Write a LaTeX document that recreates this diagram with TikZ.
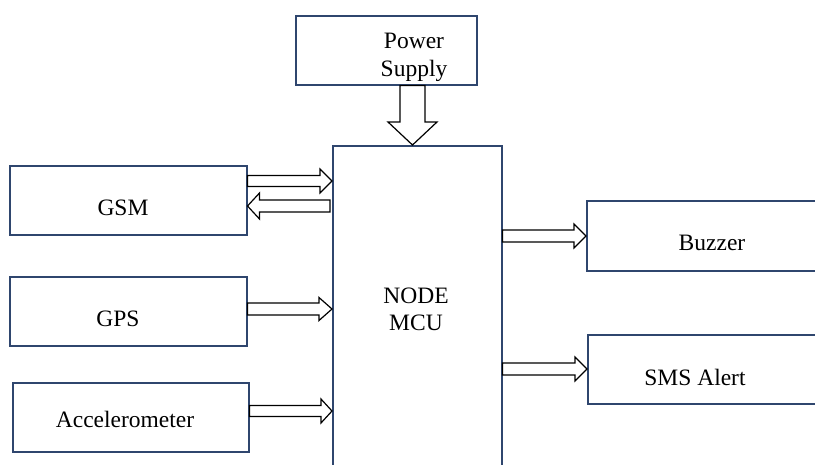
\documentclass[tikz,border=0pt]{standalone}
\usepackage{fontspec}
\setmainfont{Liberation Serif}
\usetikzlibrary{calc}
\definecolor{boxc}{RGB}{47,70,110}
\tikzset{
  box/.style={draw=boxc, line width=1.5pt, fill=white, minimum width=#1, inner sep=0pt, anchor=north west},
  lbl/.style={font=\fontsize{23.5}{27}\selectfont, anchor=base, inner sep=0pt},
  arrowline/.style={draw=black, line width=1.2pt, fill=white, line join=miter},
}
% #1 start, #2 end, #3 shaft half width, #4 head half width, #5 head length
\newcommand\blockarr[5]{%
  \coordinate (hb) at ($(#2)!#5!(#1)$);
  \path[arrowline] ($(#1)!#3!90:(#2)$) -- ($(hb)!#3!90:(#2)$) -- ($(hb)!#4!90:(#2)$) -- (#2)
    -- ($(hb)!#4!-90:(#2)$) -- ($(hb)!#3!-90:(#2)$) -- ($(#1)!#3!-90:(#2)$) -- cycle;
}
\begin{document}
\begin{tikzpicture}[x=1pt,y=-1pt]
\useasboundingbox (0,0) rectangle (815,464);
\clip (0,0) rectangle (815,464);
\fill[white] (0,0) rectangle (815,464);
% boxes
\node[box=181pt, minimum height=69pt] (power) at (295,15) {};
\node[box=169pt, minimum height=360pt] (mcu) at (332,145) {};
\node[box=237pt, minimum height=69pt] (gsm) at (9,165) {};
\node[box=237pt, minimum height=69pt] (gps) at (9,276) {};
\node[box=236pt, minimum height=69pt] (acc) at (12,382) {};
\node[box=260pt, minimum height=70pt] (buz) at (586,200) {};
\node[box=260pt, minimum height=69pt] (sms) at (587,334) {};
% labels
\node[lbl] (tpow) at (414,48) {Power};
\node[lbl] (tsup) at (414,76) {Supply};
\node[lbl] (tnode) at (416,303) {NODE};
\node[lbl] (tmcu) at (416,330) {MCU};
\node[lbl] (tgsm) at (123,215) {GSM};
\node[lbl] (tgps) at (118,326) {GPS};
\node[lbl] (tacc) at (125,427) {Accelerometer};
\node[lbl] (tbuz) at (712,250) {Buzzer};
\node[lbl] (tsms) at (695,385) {SMS Alert};
% arrow end points
\coordinate (p1s) at (power.south -| 412.5,0);
\coordinate (p1e) at (mcu.north -| 412.5,0);
\coordinate (g1s) at (gsm.east |- 0,181);
\coordinate (g1e) at (mcu.west |- 0,181);
\coordinate (g2s) at ($(mcu.west |- 0,206)+(-2,0)$);
\coordinate (g2e) at (gsm.east |- 0,206);
\coordinate (gp1s) at (gps.east |- 0,309);
\coordinate (gp1e) at (mcu.west |- 0,309);
\coordinate (a1s) at (acc.east |- 0,411);
\coordinate (a1e) at (mcu.west |- 0,411);
\coordinate (b1s) at (mcu.east |- 0,236);
\coordinate (b1e) at (buz.west |- 0,236);
\coordinate (s1s) at (mcu.east |- 0,369);
\coordinate (s1e) at (sms.west |- 0,369);
% block arrows
\blockarr{p1s}{p1e}{12.5pt}{24.5pt}{23pt}
\blockarr{g1s}{g1e}{5.5pt}{12pt}{12pt}
\blockarr{g2s}{g2e}{6pt}{13pt}{12pt}
\blockarr{gp1s}{gp1e}{6pt}{11.5pt}{13pt}
\blockarr{a1s}{a1e}{5.5pt}{12pt}{11pt}
\blockarr{b1s}{b1e}{6pt}{12pt}{12pt}
\blockarr{s1s}{s1e}{6pt}{12pt}{12pt}
\end{tikzpicture}
\end{document}
